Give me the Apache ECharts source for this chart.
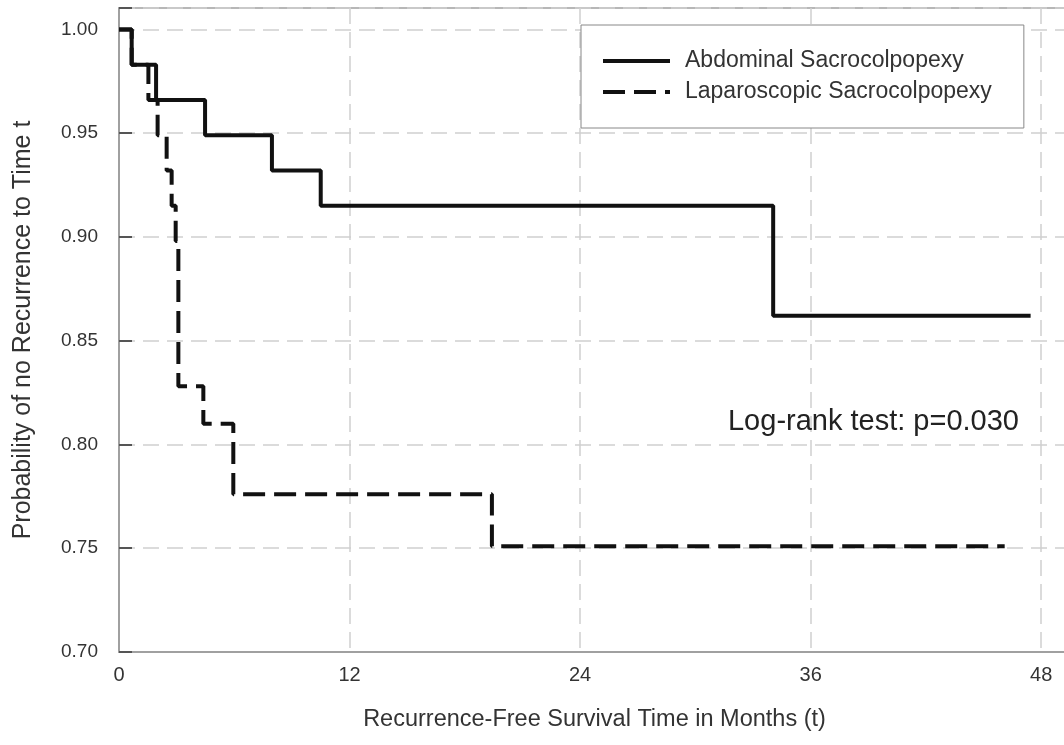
<!DOCTYPE html>
<html>
<head>
<meta charset="utf-8">
<title>Recurrence-Free Survival</title>
<script src="https://cdn.jsdelivr.net/npm/echarts@6/dist/echarts.min.js"></script>
<style>
  html, body { margin: 0; padding: 0; background: #fff; }
  #chart { width: 1064px; height: 745px; }
</style>
</head>
<body>
<div id="chart"></div>
<script>
// ============================================================
// 数据 (从原图读取的 Kaplan-Meier 阶梯)
// ============================================================
const seriesNames = ['Abdominal Sacrocolpopexy', 'Laparoscopic Sacrocolpopexy']

// 腹式: 月份 / 生存率
const abdTimes = [0, 0.66, 1.93, 4.48, 7.96, 10.5, 34.05, 47.45]
const abdSurv = [1.0, 0.983, 0.966, 0.949, 0.932, 0.915, 0.862, 0.862]

// 腹腔镜: 月份 / 生存率
const lapTimes = [0, 0.66, 1.53, 2.01, 2.48, 2.74, 2.95, 3.09, 4.39, 5.95, 19.41, 46.1]
const lapSurv = [1.0, 0.983, 0.966, 0.949, 0.932, 0.915, 0.898, 0.828, 0.810, 0.776, 0.751, 0.751]

const xTicks = [0, 12, 24, 36, 48]
const yTicks = [0.70, 0.75, 0.80, 0.85, 0.90, 0.95, 1.00]

const noteText = 'Log-rank test: p=0.030'
const xTitle = 'Recurrence-Free Survival Time in Months (t)'
const yTitle = 'Probability of no Recurrence to Time t'

const FONT = '"Liberation Sans", Arial, sans-serif'

function pairs(xs, ys) {
  return xs.map((x, i) => [x, ys[i]])
}

const chart = echarts.init(document.getElementById('chart'))

const option = {
  backgroundColor: '#fff',
  animation: false,
  textStyle: { fontFamily: FONT },
  grid: {
    left: 119,
    top: 8,
    width: 951,
    height: 644,
    outerBoundsMode: 'none',
    containLabel: false,
    show: true,
    borderColor: '#a0a0a0',
    borderWidth: 1.5
  },
  legend: {
    orient: 'vertical',
    left: 581,
    top: 25,
    padding: [23, 32, 23, 20],
    itemGap: 5,
    itemWidth: 67,
    itemHeight: 14,
    backgroundColor: '#fff',
    borderColor: '#888',
    borderWidth: 1,
    itemStyle: { color: 'transparent', borderWidth: 0, opacity: 0 },
    lineStyle: { width: 4 },
    textStyle: {
      fontFamily: FONT,
      fontSize: 23,
      color: '#333',
      lineHeight: 26,
      padding: [0, 0, 0, 10]
    },
    data: seriesNames
  },
  xAxis: {
    type: 'value',
    min: 0,
    max: 49.5,
    interval: 12,
    name: xTitle,
    nameLocation: 'middle',
    nameGap: 56,
    nameTextStyle: { fontFamily: FONT, fontSize: 23.5, color: '#333' },
    axisLine: { show: true, onZero: false, lineStyle: { color: '#a0a0a0', width: 2 } },
    axisTick: { show: false },
    axisLabel: {
      fontFamily: FONT,
      fontSize: 20,
      color: '#333',
      margin: 13,
      formatter: (v) => (xTicks.includes(v) ? String(v) : '')
    },
    splitLine: {
      show: true,
      lineStyle: { color: '#cfcfcf', width: 1.5, type: [16, 8] }
    }
  },
  yAxis: {
    type: 'value',
    min: 0.70,
    max: 1.0103,
    interval: 0.05,
    name: yTitle,
    nameLocation: 'middle',
    nameGap: 83,
    nameTextStyle: { fontFamily: FONT, fontSize: 25, color: '#333' },
    axisLine: { show: true, lineStyle: { color: '#a0a0a0', width: 2 } },
    axisTick: { show: true, inside: true, length: 13, lineStyle: { color: '#555', width: 2 } },
    axisLabel: {
      fontFamily: FONT,
      fontSize: 19,
      color: '#333',
      margin: 21,
      formatter: (v) => {
        const hit = yTicks.find(t => Math.abs(t - v) < 1e-6)
        return hit !== undefined ? hit.toFixed(2) : ''
      }
    },
    splitLine: {
      show: true,
      lineStyle: { color: '#cfcfcf', width: 1.5, type: [16, 8] }
    }
  },
  graphic: [
    {
      type: 'text',
      right: 45,
      top: 407,
      z: 10,
      style: {
        text: noteText,
        font: '29px ' + FONT,
        fill: '#222'
      }
    }
  ],
  series: [
    {
      name: seriesNames[0],
      type: 'line',
      step: 'end',
      symbol: 'none',
      showSymbol: false,
      lineStyle: { color: '#111', width: 4, type: 'solid' },
      itemStyle: { color: '#111' },
      data: pairs(abdTimes, abdSurv)
    },
    {
      name: seriesNames[1],
      type: 'line',
      step: 'end',
      symbol: 'none',
      showSymbol: false,
      lineStyle: { color: '#111', width: 4, type: [22, 9] },
      itemStyle: { color: '#111' },
      data: pairs(lapTimes, lapSurv)
    }
  ]
}

chart.setOption(option)
</script>
</body>
</html>
